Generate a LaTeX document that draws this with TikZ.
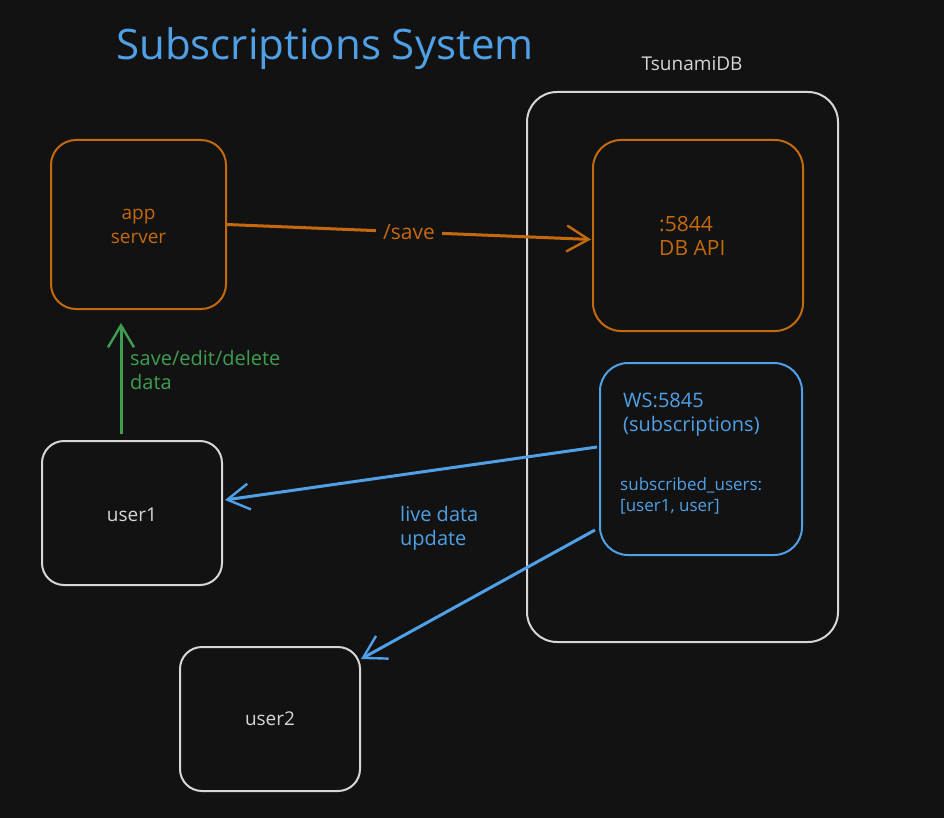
\documentclass[tikz,border=0pt]{standalone}
\usepackage{fontspec}
\setmainfont{Open Sans}
\usetikzlibrary{arrows.meta,calc}
\definecolor{bg}{HTML}{121212}
\definecolor{xorange}{HTML}{C4690E}
\definecolor{xblue}{HTML}{4FA0E6}
\definecolor{xgreen}{HTML}{3E9D50}
\definecolor{xwhite}{HTML}{D6D6D6}
\tikzset{
  box/.style={draw, line width=2pt, rounded corners=#1, inner sep=0pt},
  box/.default=24pt,
  txt/.style={font=\fontsize{#1}{#1}\selectfont, inner sep=0pt, align=left},
  conn/.style={line width=3pt, -{Straight Barb[length=22pt,width=26pt,line width=2.4pt]}},
}
\begin{document}
\begin{tikzpicture}[x=1pt,y=-1pt]
\fill[bg] (0,0) rectangle (944,818);
\useasboundingbox (0,0) rectangle (944,818);

% title
\node[txt=42, text=xblue] (title) at (325,49) {Subscriptions System};
\node[txt=19, text=xwhite] (tsu) at (692,64) {TsunamiDB};

% TsunamiDB container
\node[box=30pt, xwhite, minimum width=311pt, minimum height=550pt] (db) at (682.5,367) {};

% DB API
\node[box=28pt, xorange, minimum width=210pt, minimum height=191pt] (dbapi) at (698,235.5) {};
\node[txt=21, text=xorange, anchor=north west, align=left] (dbapitxt) at (659,216) {:5844\\[3pt]DB API};

% WS
\node[box=28pt, xblue, minimum width=202pt, minimum height=192pt] (ws) at (701,459) {};
\node[txt=20, text=xblue, anchor=north west, align=left] (wstxt) at (623,393) {WS:5845\\[4pt](subscriptions)};
\node[txt=17, text=xblue, anchor=north west, align=left] (subtxt) at (620,477) {subscribed\_users:\\[4pt][user1, user]};

% app server
\node[box=25pt, xorange, minimum width=175pt, minimum height=169pt] (app) at (138.5,224.5) {};
\node[txt=19, text=xorange, align=center] (apptxt) at (138.5,226) {app\\[5pt]server};

% users
\node[box=22pt, xwhite, minimum width=180pt, minimum height=144pt] (user1) at (132,513) {};
\node[txt=19, text=xwhite] (u1txt) at (132,515) {user1};
\node[box=22pt, xwhite, minimum width=180pt, minimum height=144pt] (user2) at (270,719) {};
\node[txt=19, text=xwhite] (u2txt) at (270,719) {user2};

% connectors
\draw[conn, xorange] (app.east) -- node[fill=bg, inner xsep=7pt, inner ysep=4pt, text=xorange, font=\fontsize{21}{21}\selectfont] (savelbl) {/save} ($(dbapi.west)+(-1,4)$);

\draw[conn, xgreen] ($(user1.north)+(-11,-6)$) -- ($(app.south)+(-17.5,13)$);
\node[txt=20, text=xgreen, anchor=north west] (greenlbl) at (130,350) {save/edit/delete\\[4pt]data};

\draw[conn, xblue] ($(ws.west)+(-2,-12)$) -- ($(user1.east)+(2,-13)$);
\draw[conn, xblue] ($(ws.west)+(-4,71)$) -- ($(user2.north east)+(0,13)$);
\node[txt=20, text=xblue, anchor=north west] (livelbl) at (400,506) {live data\\[4pt]update};
\end{tikzpicture}
\end{document}
